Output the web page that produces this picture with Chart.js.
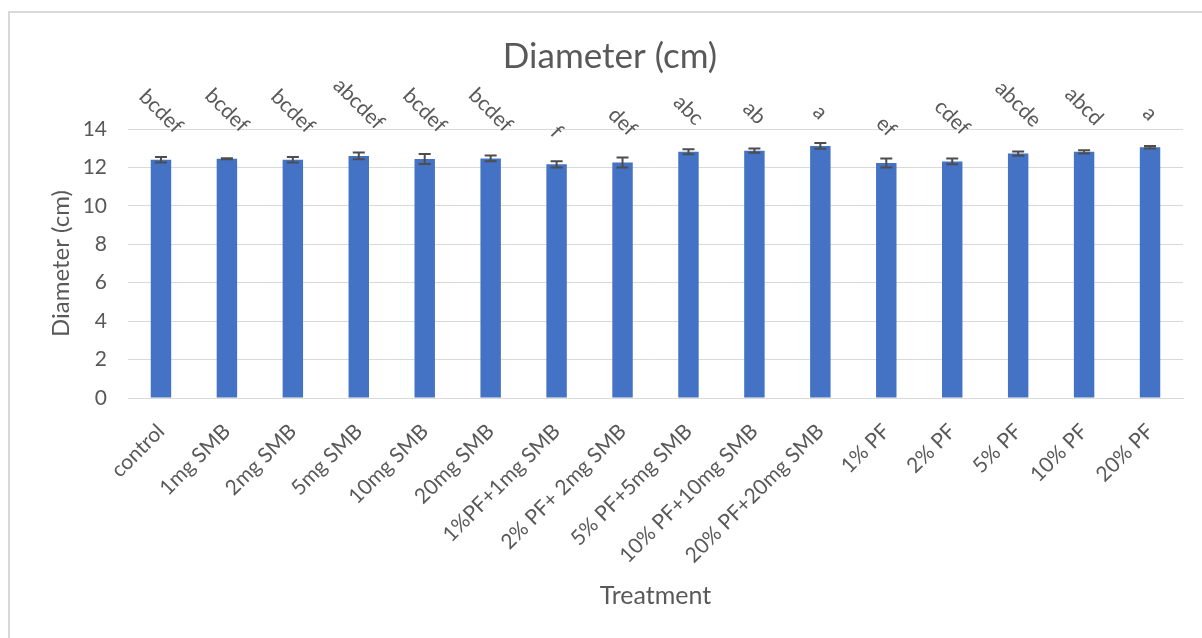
<!DOCTYPE html>
<html>
<head>
<meta charset="utf-8">
<script src="https://cdn.jsdelivr.net/npm/chart.js@4.4.1/dist/chart.umd.min.js"></script>
<style>
  html, body { margin: 0; padding: 0; background: #ffffff; overflow: hidden; }
  #frame {
    position: absolute; left: 8px; top: 11px; width: 1300px; height: 700px;
    border: 2px solid #d9d9d9; box-sizing: border-box;
  }
  #chart { position: absolute; left: 0; top: 0; }
</style>
</head>
<body>
<div id="frame"></div>
<canvas id="chart" width="1202" height="638"></canvas>
<script>
// Treatments and measured plant diameters (cm)
const categories = [
  'control', '1mg SMB', '2mg SMB', '5mg SMB', '10mg SMB', '20mg SMB',
  '1%PF+1mg SMB', '2% PF+ 2mg SMB', '5% PF+5mg SMB', '10% PF+10mg SMB',
  '20% PF+20mg SMB', '1% PF', '2% PF', '5% PF', '10% PF', '20% PF'
];
const diameter = [12.40, 12.45, 12.40, 12.60, 12.44, 12.47, 12.16, 12.26,
                  12.82, 12.87, 13.12, 12.23, 12.31, 12.72, 12.81, 13.05];
const stdError = [0.14, 0.03, 0.14, 0.18, 0.26, 0.15, 0.16, 0.26,
                  0.13, 0.11, 0.15, 0.24, 0.15, 0.11, 0.09, 0.07];
// Significance groups for each treatment
const groups = ['bcdef', 'bcdef', 'bcdef', 'abcdef', 'bcdef', 'bcdef', 'f', 'def',
                'abc', 'ab', 'a', 'ef', 'cdef', 'abcde', 'abcd', 'a'];
const yTicks = [0, 2, 4, 6, 8, 10, 12, 14];

const FONT = 'Lato, "Open Sans", sans-serif';
const TEXT = '#595959';

// Error bars drawn from the value scale
const errorBars = {
  id: 'errorBars',
  afterDatasetsDraw(chart) {
    const { ctx } = chart;
    const y = chart.scales.y;
    const meta = chart.getDatasetMeta(0);
    ctx.save();
    ctx.strokeStyle = '#4d4d4d';
    ctx.lineWidth = 2;
    meta.data.forEach((bar, i) => {
      const hi = y.getPixelForValue(diameter[i] + stdError[i]);
      const lo = y.getPixelForValue(diameter[i] - stdError[i]);
      const cap = 6;
      ctx.beginPath();
      ctx.moveTo(bar.x, hi); ctx.lineTo(bar.x, lo);
      ctx.moveTo(bar.x - cap, hi); ctx.lineTo(bar.x + cap, hi);
      ctx.moveTo(bar.x - cap, lo); ctx.lineTo(bar.x + cap, lo);
      ctx.stroke();
    });
    ctx.restore();
  }
};

// Rotated group letters above each bar
const groupLabels = {
  id: 'groupLabels',
  afterDatasetsDraw(chart) {
    const { ctx } = chart;
    const meta = chart.getDatasetMeta(0);
    const size = 21;
    ctx.save();
    ctx.font = size + 'px ' + FONT;
    ctx.fillStyle = TEXT;
    ctx.textAlign = 'center';
    ctx.textBaseline = 'middle';
    meta.data.forEach((bar, i) => {
      const w = ctx.measureText(groups[i]).width;
      const box = (w + size * 0.95) * Math.SQRT1_2;
      const cy = bar.y - 23 - box / 2;
      ctx.save();
      ctx.translate(bar.x, cy);
      ctx.rotate(Math.PI / 4);
      ctx.fillText(groups[i], 0, 0);
      ctx.restore();
    });
    ctx.restore();
  }
};

new Chart(document.getElementById('chart'), {
  type: 'bar',
  data: {
    labels: categories,
    datasets: [{
      label: 'Diameter (cm)',
      data: diameter,
      backgroundColor: '#4472c4',
      borderWidth: 0,
      categoryPercentage: 1,
      barPercentage: 0.31
    }]
  },
  options: {
    responsive: false,
    animation: false,
    layout: { padding: { left: 37, right: 19, top: 0, bottom: 0 } },
    plugins: {
      legend: { display: false },
      tooltip: { enabled: false },
      title: {
        display: true,
        text: 'Diameter (cm)',
        color: TEXT,
        font: { family: FONT, size: 35, weight: 'normal' },
        padding: { top: 36, bottom: 51 }
      }
    },
    scales: {
      x: {
        grid: { display: false },
        border: { display: true, color: '#d9d9d9', width: 1 },
        ticks: {
          color: TEXT, font: { family: FONT, size: 21 },
          maxRotation: 45, minRotation: 45, padding: 13, autoSkip: false
        },
        title: {
          display: true, text: 'Treatment', color: TEXT,
          font: { family: FONT, size: 25 }, padding: { top: 0, bottom: 27 }
        },
        afterFit(scale) { scale.height = 240; }
      },
      y: {
        min: 0, max: 14,
        afterBuildTicks(scale) { scale.ticks = yTicks.map(v => ({ value: v })); },
        grid: { color: '#d9d9d9', lineWidth: 1, drawTicks: false },
        border: { display: false },
        ticks: { color: TEXT, font: { family: FONT, size: 21 }, padding: 21 },
        title: {
          display: true, text: 'Diameter (cm)', color: TEXT,
          font: { family: FONT, size: 24 }, padding: { top: 10, bottom: 0 }
        },
        afterFit(scale) { scale.width = 91; }
      }
    }
  },
  plugins: [errorBars, groupLabels]
});
</script>
</body>
</html>
